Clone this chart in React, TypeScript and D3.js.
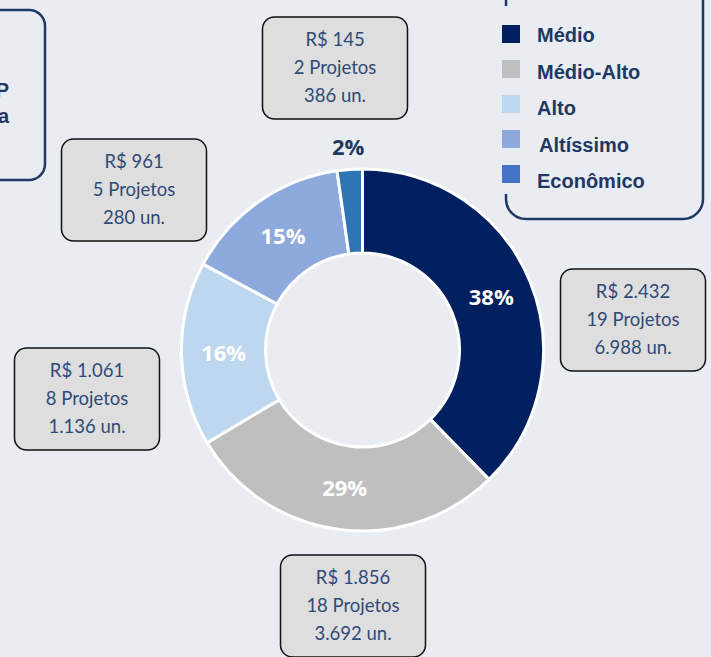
import * as d3 from "d3";

const categories = ["Médio", "Médio-Alto", "Alto", "Altíssimo", "Econômico"];
const valores = [2432, 1856, 1061, 961, 145];
const projetos = [19, 18, 8, 5, 2];
const unidades = [6988, 3692, 1136, 280, 386];
const sliceColors = ["#002060", "#BFBFBF", "#BDD7EE", "#8EA9DB", "#2E75B6"];
const legendColors = ["#002060", "#BFBFBF", "#BDD7EE", "#8EA9DB", "#4472C4"];

const W = 711;
const H = 657;
const BG = "#E9EDF1";
const NAVY = "#1F3864";
const BOX_TEXT = "#2F4A78";

// layout: callout box centres, one per category
const calloutCenters: Record<string, [number, number]> = {
  "Médio": [633, 320],
  "Médio-Alto": [353, 606],
  "Alto": [87, 399],
  "Altíssimo": [134, 190],
  "Econômico": [335, 68],
};

const ptBR = d3.formatLocale({
  decimal: ",",
  thousands: ".",
  grouping: [3],
  currency: ["R$ ", ""],
});
const fmt = ptBR.format(",d");

type Slice = { name: string; value: number; index: number };

const App = () => {
  const cx = 362.5;
  const cy = 350;
  const outerR = 181;
  const innerR = 97;

  const rows: Slice[] = categories.map((name, index) => ({ name, value: valores[index], index }));
  const total = d3.sum(valores);

  const pie = d3
    .pie<Slice>()
    .sort(null)
    .value((d) => d.value)
    .startAngle(0)
    .endAngle(Math.PI * 2);
  const arcs = pie(rows);

  const arc = d3.arc<d3.PieArcDatum<Slice>>().innerRadius(innerR).outerRadius(outerR);
  const outsideArc = d3.arc<d3.PieArcDatum<Slice>>().innerRadius(203).outerRadius(203);

  const boxW = 145;
  const boxH = 102;

  return (
    <div style={{ position: "fixed", left: 0, top: 0 }}>
      <svg width={W} height={H} style={{ display: "block" }}>
        <rect x={0} y={0} width={W} height={H} fill={BG} />

        {/* partial box at top-left, cut by the page edge */}
        <rect x={-120} y={10} width={165} height={170} rx={16} fill="none" stroke={NAVY} strokeWidth={2.5} />
        <text x={9} y={97} textAnchor="end" fontFamily="Liberation Sans, Arial, sans-serif" fontWeight="bold" fontSize={20} fill={NAVY}>
          P
        </text>
        <text x={9} y={123} textAnchor="end" fontFamily="Liberation Sans, Arial, sans-serif" fontWeight="bold" fontSize={20} fill={NAVY}>
          a
        </text>

        {/* legend frame, top edge outside the page */}
        <rect x={506} y={-20} width={197} height={239} rx={20} fill="none" stroke={NAVY} strokeWidth={2.5} />
        <rect x={496} y={6} width={20} height={188} fill={BG} />
        <g fontFamily="Liberation Sans, Arial, sans-serif" fontWeight="bold" fontSize={20} fill={NAVY}>
          {categories.map((name, i) => (
            <g key={name}>
              <rect x={502} y={25 + i * 35} width={18} height={18} fill={legendColors[i]} />
              <text x={name === "Altíssimo" ? 539 : 537} y={42 + i * 36.5}>
                {name}
              </text>
            </g>
          ))}
        </g>

        {/* donut */}
        <g transform={`translate(${cx},${cy})`}>
          {arcs.map((a) => (
            <path key={a.data.name} d={arc(a) ?? ""} fill={sliceColors[a.index]} stroke="#FFFFFF" strokeWidth={3} strokeLinejoin="miter" />
          ))}
          {arcs.map((a) => {
            const pct = Math.round((a.data.value / total) * 100);
            const small = pct < 5;
            const [lx, ly] = small ? outsideArc.centroid(a) : arc.centroid(a);
            return (
              <text
                key={`lbl-${a.data.name}`}
                x={lx}
                y={ly}
                dy="0.36em"
                textAnchor="middle"
                fontFamily="Open Sans, sans-serif"
                fontWeight="bold"
                fontSize={22}
                fill={small ? NAVY : "#FFFFFF"}
              >
                {pct}%
              </text>
            );
          })}
        </g>

        {/* callouts */}
        {rows.map((r) => {
          const [bx, by] = calloutCenters[r.name];
          const lines = [`R$ ${fmt(r.value)}`, `${projetos[r.index]} Projetos`, `${fmt(unidades[r.index])} un.`];
          return (
            <g key={`box-${r.name}`}>
              <rect
                x={bx - boxW / 2}
                y={by - boxH / 2}
                width={boxW}
                height={boxH}
                rx={12}
                fill="#DEDEDE"
                stroke="#111111"
                strokeWidth={1.5}
              />
              {lines.map((t, j) => (
                <text
                  key={t}
                  x={bx}
                  y={by + (j - 1) * 28}
                  dy="0.35em"
                  textAnchor="middle"
                  fontFamily="Lato, sans-serif"
                  fontSize={18.5}
                  fill={BOX_TEXT}
                >
                  {t}
                </text>
              ))}
            </g>
          );
        })}
      </svg>
    </div>
  );
};

export default App;
